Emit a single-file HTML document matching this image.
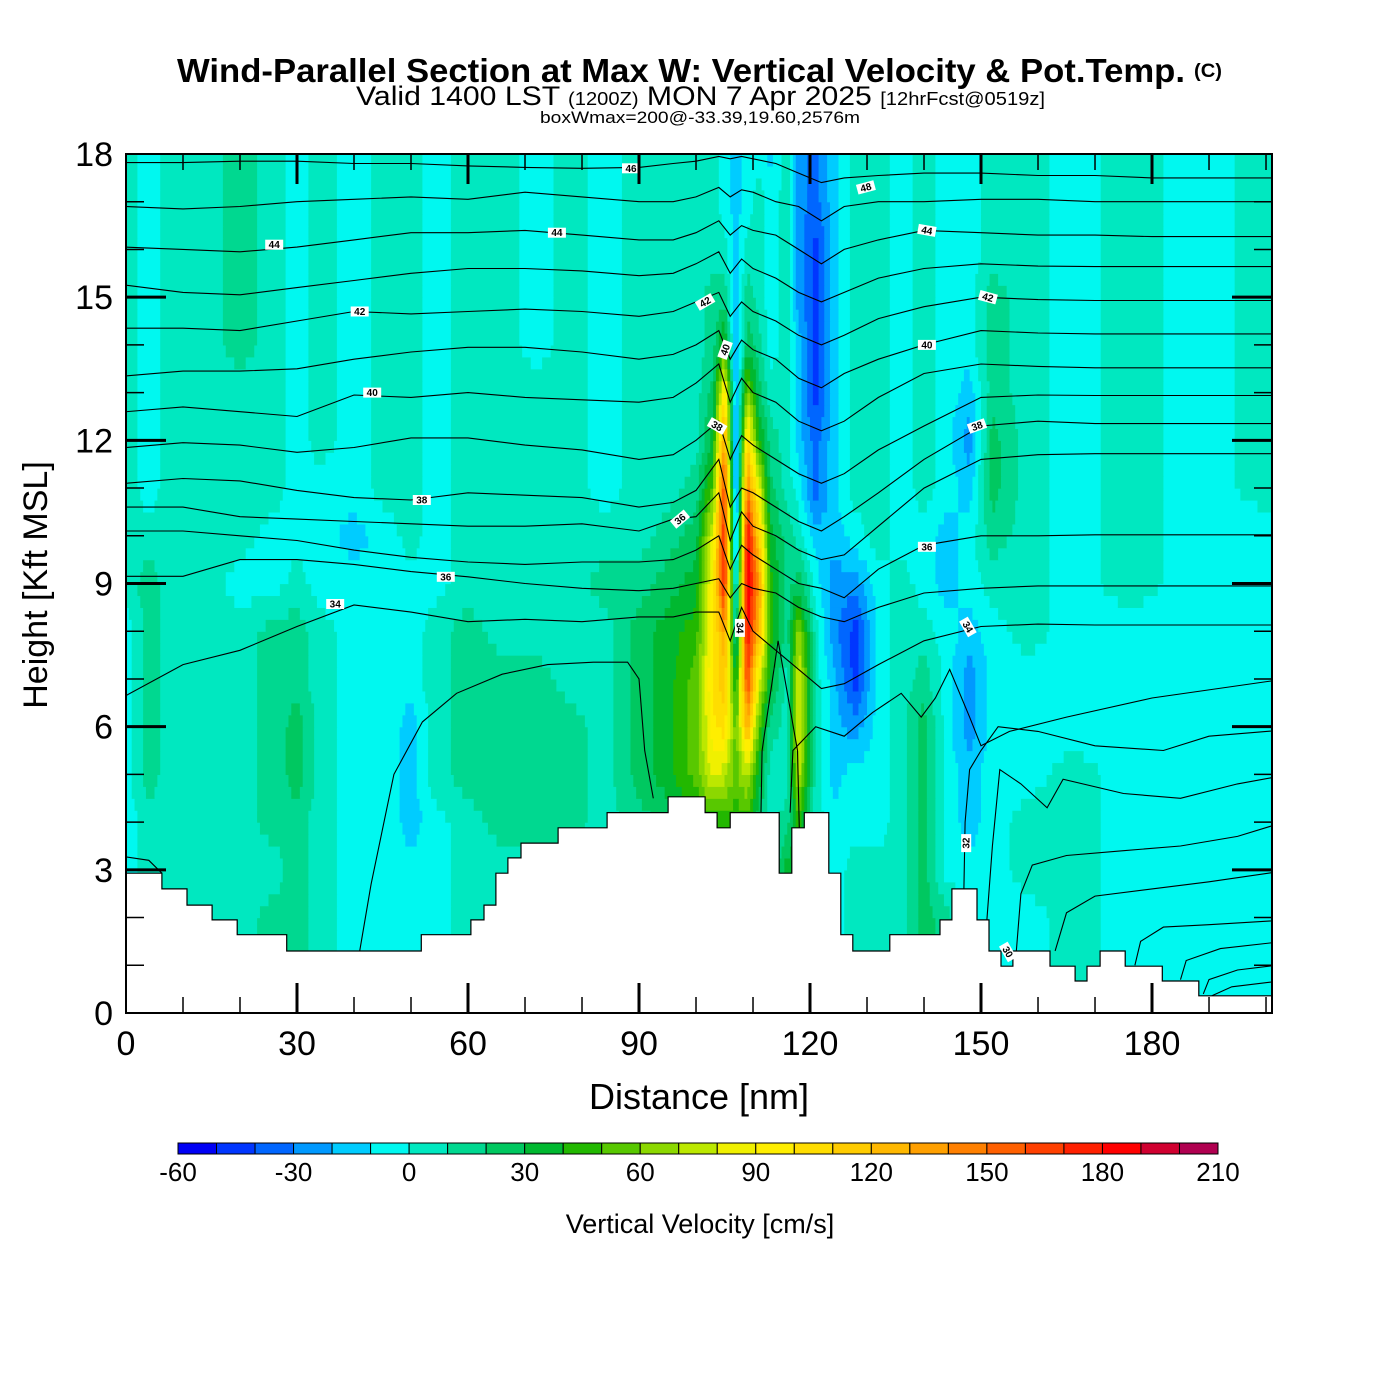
<!DOCTYPE html>
<html><head><meta charset="utf-8"><style>
html,body{margin:0;padding:0;background:#fff;}
svg{display:block;font-family:"Liberation Sans",sans-serif;}
</style></head><body>
<svg id="chart" width="1400" height="1400" viewBox="0 0 1400 1400" xmlns="http://www.w3.org/2000/svg">
<rect width="1400" height="1400" fill="#fff"/>
<g>
<text x="177" y="82" font-size="33" font-weight="bold" textLength="1008" lengthAdjust="spacingAndGlyphs">Wind-Parallel Section at Max W: Vertical Velocity &amp; Pot.Temp.</text>
<text x="1194" y="77" font-size="19" font-weight="bold" textLength="28" lengthAdjust="spacingAndGlyphs">(C)</text>
<text x="356" y="105" font-size="27" textLength="689" lengthAdjust="spacingAndGlyphs">Valid 1400 LST <tspan font-size="18">(1200Z)</tspan> MON 7 Apr 2025 <tspan font-size="18">[12hrFcst@0519z]</tspan></text>
<text x="540" y="123" font-size="17" textLength="320" lengthAdjust="spacingAndGlyphs">boxWmax=200@-33.39,19.60,2576m</text>
</g>
<g id="field"></g>
<g id="contours"></g>
<g id="terrain"></g>
<g id="clabels"></g>
<g id="axes"></g>
<g id="cbar"></g>
<text x="699" y="1109" font-size="36" text-anchor="middle">Distance [nm]</text>
<text transform="translate(47,585) rotate(-90)" font-size="34" text-anchor="middle">Height [Kft MSL]</text>
<text x="700" y="1233" font-size="27" text-anchor="middle">Vertical Velocity [cm/s]</text>
</svg>
<script>
// ---- data ----
const gridX = [0,4,8,14,20,26,30,34,40,46, 50,54,60,66,72,78,84,90,95,100, 103,105,107,109,111,113,116,118,121,124, 128,132,136,140,144,148,152,158,166,176, 188,201];
const w0  = [-5,5,5,5,5,15,15,5,-5,-5, -5,-5,5,5,5,5,5,15,15,25, 25,25,25,25,15,5,35,35,5,-5, 5,5,5,25,15,-5,-5,-5,5,-5, -5,-5];
const w1  = [-5,5,5,5,5,15,15,5,-5,-5, -5,-5,5,5,5,5,5,15,15,25, 25,25,25,25,15,5,35,35,5,-5, 5,5,5,25,15,-5,-5,-5,5,-5, -5,-5];
const w2  = [-5,5,5,5,5,15,15,5,-5,-5, -5,-5,5,5,5,5,5,15,15,25, 25,25,25,25,15,5,35,35,5,-5, 5,5,5,25,15,-5,-5,-5,5,-5, -5,-5];
const w3  = [-5,5,5,5,5,5,15,5,-5,-5, -5,-5,5,5,5,5,5,15,15,25, 25,25,25,25,15,5,35,35,5,-5, 5,5,5,25,-5,-5,-5,5,5,-5, -5,-5];
const w4  = [-5,5,5,5,5,15,15,5,-5,-5, -15,-5,5,15,15,15,5,15,25,35, 45,45,45,45,25,5,15,45,5,-5, -5,-5,5,25,-5,-15,-5,5,5,-5, -5,-5];
const w5  = [-5,15,5,5,5,15,25,5,-5,-5, -15,5,15,15,15,15,5,25,35,55, 85,75,55,75,35,5,5,75,5,-15, -5,-5,5,25,-5,-15,-5,-5,5,-5, -5,-5];
const w6  = [-5,15,5,5,5,15,25,5,-5,-5, -15,5,15,15,15,15,5,25,35,55, 95,105,55,125,55,15,5,85,5,-15, -25,-5,5,25,-5,-25,-5,-5,-5,-5, -5,-5];
const w7  = [-5,15,5,5,5,15,15,5,-5,-5, -5,5,15,15,15,5,5,25,35,55, 105,115,35,165,85,35,5,85,5,-15, -45,-5,5,15,-5,-25,-5,-5,-5,-5, -5,-5];
const w8  = [-5,15,5,5,5,15,15,5,-5,-5, -5,5,15,5,5,5,5,25,35,45, 95,135,5,185,125,45,15,65,5,-25, -45,-5,5,5,-5,-15,-5,5,-5,-5, -5,-5];
const w9  = [5,15,5,5,-5,-5,5,-5,-5,-5, -5,-5,5,5,5,5,15,15,25,35, 95,175,-15,195,135,45,15,25,-5,-25, -25,-5,5,-5,-15,-5,5,5,-5,5, -5,-5];
const w10 = [5,5,5,5,5,-5,-5,-5,-15,-5, 5,-5,5,5,5,5,5,5,15,25, 85,175,-35,185,115,35,15,5,-15,-15, -5,5,-5,-5,-15,-5,15,5,-5,5, -5,-5];
const w11 = [5,-5,5,5,5,5,-5,-5,-5,5, 5,-5,5,5,5,5,-5,5,5,15, 55,165,-35,145,85,25,5,-5,-35,-15, 5,5,-5,5,-5,-15,25,5,-5,5, -5,5];
const w12 = [5,-5,5,5,5,5,-5,5,-5,5, 5,-5,5,5,5,5,-5,5,5,5, 35,135,-35,105,45,15,5,-15,-35,-15, 5,5,-5,5,-5,-25,25,5,-5,5, -5,5];
const w13 = [5,-5,5,5,5,5,-5,5,-5,5, 5,-5,5,5,5,5,-5,5,5,5, 25,105,-25,65,25,5,5,-15,-45,-15, 5,5,-5,5,-5,-15,15,5,-5,5, -5,5];
const w14 = [5,-5,5,5,15,5,-5,5,-5,5, 5,-5,5,5,-5,5,-5,5,5,5, 15,45,-25,25,15,-5,5,-15,-45,-15, 5,5,-5,5,-5,-5,15,5,-5,5, -5,5];
const w15 = [5,-5,5,5,15,5,-5,5,-5,5, 5,-5,5,5,-5,5,-5,5,5,5, 15,15,-15,15,5,-5,5,-25,-45,-15, 5,5,-5,5,-5,-5,15,5,-5,5, -5,5];
const w16 = [5,-5,5,5,15,5,-5,5,-5,5, 5,-5,5,5,-5,5,-5,5,5,5, 5,5,-15,5,5,-5,5,-25,-45,-15, 5,5,-5,5,-5,-5,5,5,-5,5, -5,5];
const w17 = [5,-5,5,5,15,5,-5,5,-5,5, 5,-5,5,5,-5,5,-5,5,5,5, 5,-5,-15,-5,5,-5,5,-25,-35,-15, 5,5,-5,5,-5,-5,5,5,-5,5, -5,5];
const w18 = [5,-5,5,5,15,5,-5,5,-5,5, 5,-5,5,5,-5,5,-5,5,5,5, 5,-5,-15,-5,-5,-15,5,-25,-35,-15, 5,5,-5,5,-5,-5,5,5,-5,5, -5,5];
const wRows = [w0,w1,w2,w3,w4,w5,w6,w7,w8,w9,w10,w11,w12,w13,w14,w15,w16,w17,w18];

const levels = [-60,-50,-40,-30,-20,-10,0,10,20,30,40,50,60,70,80,90,100,110,120,130,140,150,160,170,180,190,200,210];
const levelColors = ["#0000f5","#0036ff","#0066ff","#0099ff","#00ccff","#00f8f0","#00e8c0","#00d890","#00c860","#00b830","#22b800","#58c800","#8cd800","#bce800","#f0f000","#ffee00","#ffdd00","#ffcc00","#ffb800","#ffa000","#ff8000","#ff6000","#ff4000","#ff2000","#ff0000","#d00030","#b00050"];
const cbarTicks = [-60,-30,0,30,60,90,120,150,180,210];

const terrX = [0,6.3,10.7,15.1,19.5,28.2,51.8,60.5,62.8,64.9, 67,69.3,75.8,84.4,95.1,101.6,103.7,106,114.6,116.8, 119,123.3,125.4,127.5,134,142.8,144.9,149.3,151.4,153.5, 155.6,162.1,166.5,168.6,170.9,175.3,181.8,188.2];
const terrZ = [2.93,2.6,2.26,1.95,1.64,1.3,1.64,1.95,2.26,2.93, 3.25,3.56,3.88,4.2,4.53,4.2,3.88,4.2,2.93,3.88, 4.2,2.93,1.64,1.3,1.64,1.95,2.6,1.95,1.3,0.98, 1.3,0.98,0.67,0.98,1.3,0.98,0.67,0.36];

const thX = [0,10,20,30,40,50,60,70,80,90,96,100,104,106,108,110,114,118,122,126,132,140,150,160,170,180,190,201];
const th1  = [17.82,17.82,17.85,17.85,17.8,17.8,17.75,17.72,17.7,17.72,17.8,17.85,17.95,17.9,17.95,17.9,17.8,17.6,17.4,17.5,17.55,17.6,17.6,17.55,17.55,17.5,17.5,17.5];
const th2  = [16.9,16.85,16.9,17.0,17.05,17.1,17.05,17.2,17.1,17.0,17.0,17.1,17.3,17.1,17.25,17.2,17.0,16.9,16.6,16.9,17.0,17.0,17.05,17.05,17.0,17.0,17.0,17.0];
const th3  = [16.05,16.0,15.95,16.05,16.2,16.35,16.35,16.4,16.3,16.2,16.2,16.35,16.6,16.3,16.5,16.4,16.3,16.0,15.7,16.0,16.2,16.4,16.35,16.3,16.3,16.27,16.27,16.27];
const th4  = [15.25,15.1,15.05,15.2,15.35,15.5,15.6,15.6,15.55,15.45,15.5,15.7,15.95,15.5,15.8,15.6,15.4,15.1,14.9,15.1,15.4,15.6,15.7,15.65,15.64,15.64,15.64,15.64];
const th5  = [14.35,14.35,14.3,14.5,14.7,14.65,14.7,14.75,14.7,14.6,14.7,14.9,15.1,14.6,14.9,14.7,14.5,14.2,14.0,14.2,14.55,14.8,15.0,14.95,14.93,14.93,14.93,14.93];
const th6  = [13.35,13.45,13.45,13.5,13.7,13.85,13.95,13.95,13.85,13.7,13.8,14.0,14.3,13.7,14.1,13.9,13.7,13.3,13.1,13.4,13.7,14.0,14.3,14.25,14.23,14.23,14.23,14.23];
const th7  = [12.6,12.7,12.6,12.5,12.95,12.9,13.0,12.9,12.85,12.8,12.9,13.2,13.6,12.8,13.3,13.0,12.8,12.4,12.2,12.4,12.9,13.4,13.6,13.55,13.52,13.52,13.52,13.52];
const th8  = [11.85,11.95,11.9,11.75,11.85,12.05,12.05,11.9,11.8,11.6,11.7,12.0,12.4,11.6,12.1,11.9,11.6,11.3,11.1,11.3,11.8,12.3,12.9,12.95,12.94,12.94,12.94,12.94];
const th9  = [11.1,11.2,11.15,10.95,10.8,10.75,10.9,10.85,10.8,10.6,10.7,10.95,11.6,10.6,11.0,10.9,10.6,10.3,10.1,10.4,10.9,11.6,12.3,12.4,12.35,12.35,12.35,12.35];
const th10 = [10.6,10.6,10.4,10.35,10.3,10.25,10.2,10.2,10.25,10.1,10.35,10.4,10.9,9.9,10.5,10.2,10.0,9.7,9.5,9.6,10.2,11.0,11.6,11.7,11.72,11.72,11.72,11.72];
const th11 = [10.1,10.1,10.0,9.9,9.7,9.55,9.45,9.4,9.45,9.45,9.5,9.7,10.0,9.3,9.8,9.6,9.3,9.0,8.9,8.7,9.3,9.8,10.0,10.0,10.02,10.02,10.02,10.02];
const th12 = [9.15,9.15,9.5,9.5,9.4,9.25,9.14,9.0,8.9,8.85,8.9,9.0,9.1,8.7,9.0,8.9,8.8,8.5,8.3,8.2,8.5,8.8,8.9,8.95,8.95,8.95,8.95,8.95];
const th13 = [6.65,7.3,7.6,8.1,8.55,8.4,8.2,8.25,8.2,8.3,8.3,8.4,8.4,7.8,8.5,8.0,7.6,7.2,6.8,6.9,7.3,7.8,8.1,8.15,8.13,8.13,8.13,8.13];
const thLines = [th1,th2,th3,th4,th5,th6,th7,th8,th9,th10,th11,th12,th13];

const domeX = [41,43,47,52,58,66,74,82,88,90,91,92.5];
const domeZ = [1.3,2.7,5.0,6.1,6.7,7.1,7.3,7.35,7.35,7.0,5.5,4.5];
const vX = [111.4,111.6,114.4,117.8,118.2];
const vZ = [4.2,5.5,7.8,5.5,3.5];
const r2X = [116.5,117,121,126,131,136,139.5,142,144.5,148,150,155,165,180,201];
const r2Z = [4.2,5.5,6.0,5.8,6.3,6.7,6.2,6.6,7.2,6.2,5.6,5.9,6.2,6.6,6.96];
const r3X = [147,147.2,148,150,153,160,170,182,190,201];
const r3Z = [2.6,4.0,5.1,5.5,6.0,5.9,5.6,5.5,5.8,5.91];
const r4X = [151,152,153.3,157,161.6,164.4,175,185,195,201];
const r4Z = [1.9,3.5,5.1,4.8,4.3,4.9,4.6,4.5,4.8,4.93];
const r5X = [156,157,159,165,175,185,195,201];
const r5Z = [1.0,2.5,3.1,3.3,3.4,3.5,3.7,3.92];
const r6X = [163,165,170,180,190,201];
const r6Z = [1.3,2.1,2.45,2.6,2.75,2.94];
const r7X = [177,178,182,190,201];
const r7Z = [1.0,1.5,1.8,1.85,1.93];
const r8X = [185,186,192,201];
const r8Z = [0.7,1.1,1.35,1.47];
const r9X = [189,190,195,201];
const r9Z = [0.4,0.7,0.9,0.99];
const r10X = [190.5,194,201];
const r10Z = [0.36,0.55,0.65];
const lowX = [0,4,6.3];
const lowZ = [3.27,3.2,2.93];

const labText = ["46","48","44","44","44","42","42","42","40","40","40","38","38","38","36","36","36","34","34","34","32","30"];
const labX = [88.6,129.8,26,75.6,140.5,41,101.6,151.2,43.2,105.1,140.5,103.7,149.3,51.9,97.2,140.5,56.1,36.7,107.7,147.7,147.4,154.7];
const labZ = [17.7,17.3,16.1,16.35,16.4,14.7,14.9,15.0,13.0,13.9,14.0,12.3,12.3,10.75,10.35,9.77,9.14,8.57,8.07,8.09,3.56,1.28];
const labRot = [0,-15,0,0,10,0,-30,15,0,-70,0,30,-20,0,-40,0,0,0,90,60,-90,60];

const xTicks = [0,30,60,90,120,150,180];
const yTicks = [0,3,6,9,12,15,18];

// ---- scales ----
const X0=126, X1=1272, Y0=1013, Y1=154, XMAX=201.05, ZMAX=18;
function sx(n){return X0+n*(X1-X0)/XMAX;}
function sz(z){return Y0-z*(Y0-Y1)/ZMAX;}
const NS="http://www.w3.org/2000/svg";
function mk(tag,parent){const e=document.createElementNS(NS,tag);parent.appendChild(e);return e;}

function colorFor(v){let i=Math.floor((v-levels[0])/10);if(i<0)i=0;if(i>levelColors.length-1)i=levelColors.length-1;return levelColors[i];}
function sample(x,z){
  let j=0;while(j<gridX.length-2&&gridX[j+1]<x)j++;
  const tx=Math.max(0,Math.min(1,(x-gridX[j])/(gridX[j+1]-gridX[j])));
  let k=Math.floor(z);if(k>17)k=17;if(k<0)k=0;const tz=z-k;
  const a=wRows[k][j]*(1-tx)+wRows[k][j+1]*tx;
  const b=wRows[k+1][j]*(1-tx)+wRows[k+1][j+1]*tx;
  return a*(1-tz)+b*tz;
}
// field
const field=document.getElementById('field');
const dx=0.5, dz=0.25;
for(let z=0;z<ZMAX-1e-9;z+=dz){
  let runStart=0, runCol=null;
  const nx=Math.ceil(XMAX/dx);
  for(let i=0;i<=nx;i++){
    const c = i<nx ? colorFor(sample(Math.min(XMAX,(i+0.5)*dx),z+dz/2)) : null;
    if(c!==runCol){
      if(runCol!==null){
        const r=mk('rect',field);
        
        
        const xa=sx(runStart*dx), xb=sx(Math.min(XMAX,i*dx));
        r.setAttribute('x',xa.toFixed(2));r.setAttribute('y',sz(z+dz).toFixed(2));
        r.setAttribute('width',(xb-xa+0.6).toFixed(2));r.setAttribute('height',(sz(z)-sz(z+dz)+0.6).toFixed(2));
        r.setAttribute('fill',runCol);
      }
      runStart=i;runCol=c;
    }
  }
}
// contours
const cont=document.getElementById('contours');
function line(xs,zs,name){
  const p=mk('polyline',cont);
  
  
  p.setAttribute('points',xs.map((x,i)=>sx(x).toFixed(1)+','+sz(zs[i]).toFixed(1)).join(' '));
  p.setAttribute('fill','none');p.setAttribute('stroke','#000');p.setAttribute('stroke-width','1.1');
}
thLines.forEach((zs,i)=>line(thX,zs,'theta-contour-'+(i+1)));
line(domeX,domeZ,'theta-contour-dome');
line(vX,vZ,'theta-contour-updraft');
line(r2X,r2Z,'theta-contour-r2');line(r3X,r3Z,'theta-contour-r3');line(r4X,r4Z,'theta-contour-r4');
line(r5X,r5Z,'theta-contour-r5');line(r6X,r6Z,'theta-contour-r6');line(r7X,r7Z,'theta-contour-r7');
line(r8X,r8Z,'theta-contour-r8');line(r9X,r9Z,'theta-contour-r9');line(r10X,r10Z,'theta-contour-r10');
line(lowX,lowZ,'theta-contour-low');
// terrain
const ter=document.getElementById('terrain');
let pts=[[sx(0),sz(0)]];
terrX.forEach((x,i)=>{const xe=i<terrX.length-1?terrX[i+1]:XMAX;pts.push([sx(x),sz(terrZ[i])]);pts.push([sx(xe),sz(terrZ[i])]);});
pts.push([sx(XMAX),sz(0)]);
const tp=mk('polygon',ter);


tp.setAttribute('points',pts.map(p=>p[0].toFixed(1)+','+p[1].toFixed(1)).join(' '));
tp.setAttribute('fill','#fff');
const tl=mk('polyline',ter);


tl.setAttribute('points',pts.slice(1,-1).map(p=>p[0].toFixed(1)+','+p[1].toFixed(1)).join(' '));
tl.setAttribute('fill','none');tl.setAttribute('stroke','#000');tl.setAttribute('stroke-width','1.2');
// contour labels
const cl=document.getElementById('clabels');
labText.forEach((t,i)=>{
  const g=mk('g',cl);
  
  
  g.setAttribute('transform','translate('+sx(labX[i]).toFixed(1)+','+sz(labZ[i]).toFixed(1)+') rotate('+labRot[i]+')');
  const r=mk('rect',g);r.setAttribute('x','-9');r.setAttribute('y','-5');r.setAttribute('width','18');r.setAttribute('height','10');r.setAttribute('fill','#fff');
  const tx=mk('text',g);tx.setAttribute('x','0');tx.setAttribute('y','3.5');tx.setAttribute('font-size','10');tx.setAttribute('font-weight','bold');tx.setAttribute('text-anchor','middle');tx.textContent=t;
});
// axes
const ax=document.getElementById('axes');
const fr=mk('rect',ax);


fr.setAttribute('x',X0);fr.setAttribute('y',Y1);fr.setAttribute('width',X1-X0);fr.setAttribute('height',Y0-Y1);
fr.setAttribute('fill','none');fr.setAttribute('stroke','#000');fr.setAttribute('stroke-width','2');
function tick(x1,y1,x2,y2,w){const l=mk('line',ax);l.setAttribute('x1',x1);l.setAttribute('y1',y1);l.setAttribute('x2',x2);l.setAttribute('y2',y2);l.setAttribute('stroke','#000');l.setAttribute('stroke-width',w);}
for(let n=10;n<XMAX;n+=10){const maj=n%30===0;const L=maj?30:16;const x=sx(n);tick(x,Y0,x,Y0-L,maj?3:1.5);tick(x,Y1,x,Y1+L,maj?3:1.5);}
for(let z=1;z<ZMAX;z+=1){const maj=z%3===0;const L=maj?40:18;const y=sz(z);tick(X0,y,X0+L,y,maj?3:1.5);tick(X1,y,X1-L,y,maj?3:1.5);}
xTicks.forEach(v=>{const t=mk('text',ax);t.setAttribute('x',sx(v));t.setAttribute('y',1055);t.setAttribute('font-size','34');t.setAttribute('text-anchor','middle');t.textContent=v;});
yTicks.forEach(v=>{const t=mk('text',ax);t.setAttribute('x',113);t.setAttribute('y',sz(v)+12);t.setAttribute('font-size','34');t.setAttribute('text-anchor','end');t.textContent=v;});
// colorbar
const cb=document.getElementById('cbar');
const CB0=178, CB1=1218, CBY=1143, CBH=11;
const segW=(CB1-CB0)/levelColors.length;
levelColors.forEach((c,i)=>{const r=mk('rect',cb);r.setAttribute('x',(CB0+i*segW).toFixed(2));r.setAttribute('y',CBY);r.setAttribute('width',segW.toFixed(2));r.setAttribute('height',CBH);r.setAttribute('fill',c);r.setAttribute('stroke','#000');r.setAttribute('stroke-width','1');});
cbarTicks.forEach(v=>{const t=mk('text',cb);t.setAttribute('x',(CB0+(v-levels[0])/10*segW).toFixed(1));t.setAttribute('y',1181);t.setAttribute('font-size','26');t.setAttribute('text-anchor','middle');t.textContent=v;});
</script>
</body></html>
